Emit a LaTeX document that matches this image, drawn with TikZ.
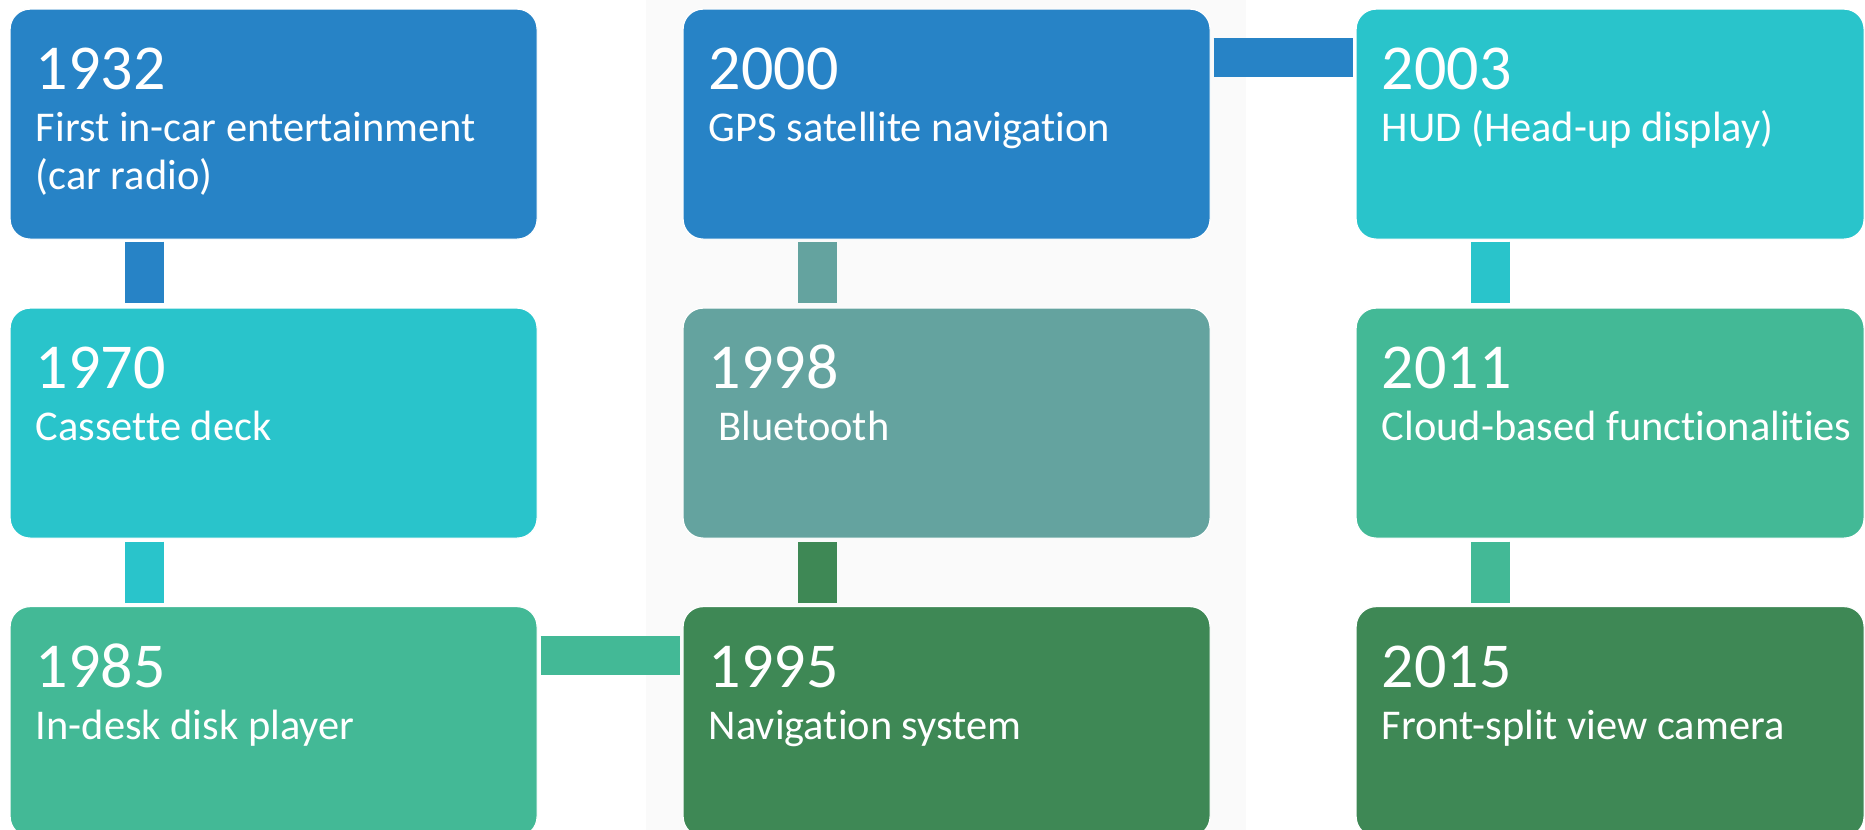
\documentclass[tikz,border=0pt]{standalone}
\usepackage{fontspec}
\setmainfont{Carlito}[Ligatures=NoCommon]
\definecolor{cBlue}{HTML}{2783C6}
\definecolor{cCyan}{HTML}{29C4CB}
\definecolor{cTeal}{HTML}{43B996}
\definecolor{cGrayTeal}{HTML}{64A39F}
\definecolor{cDark}{HTML}{3E8855}
\definecolor{cBg}{HTML}{FAFAFA}
\tikzset{
  evbox/.style={rectangle, rounded corners=10pt, draw=white, line width=0.6pt,
    minimum width=263.5pt, minimum height=115pt, anchor=north west, inner sep=0pt},
  evboxr/.style={evbox, minimum width=254pt},
  yeartext/.style={anchor=base west, inner sep=0pt, text=white,
    font=\fontsize{32}{38}\selectfont},
  desctext/.style={anchor=base west, inner sep=0pt, text=white, align=left,
    font=\fontsize{21.2}{24}\selectfont},
  conn/.style={line width=19.5pt, line cap=butt},
}
\begin{document}
\begin{tikzpicture}[x=0.5pt, y=-0.5pt]
\useasboundingbox (0,0) rectangle (1865,830);
\clip (0,0) rectangle (1865,830);
\fill[white] (0,0) rectangle (1865,830);
\fill[cBg] (646,0) rectangle (1246,830);

% boxes
\node[evbox, fill=cBlue] (b1932) at (9.5,8.5) {};
\node[evbox, fill=cCyan] (b1970) at (9.5,307.5) {};
\node[evbox, fill=cTeal] (b1985) at (9.5,606) {};
\node[evbox, fill=cBlue] (b2000) at (682.5,8.5) {};
\node[evbox, fill=cGrayTeal] (b1998) at (682.5,307.5) {};
\node[evbox, fill=cDark] (b1995) at (682.5,606) {};
\node[evboxr, fill=cCyan] (b2003) at (1355.5,8.5) {};
\node[evboxr, fill=cTeal] (b2011) at (1355.5,307.5) {};
\node[evboxr, fill=cDark] (b2015) at (1355.5,606) {};

% texts
\foreach \b/\yr in {b1932/1932, b1970/1970, b1985/1985, b2000/2000, b1998/1998, b1995/1995, b2003/2003, b2011/2011, b2015/2015}{
  \node[yeartext] (\b-year) at ([xshift=13pt, yshift=-40.5pt]\b.north west) {\yr};
}
\node[desctext] (d1932) at ([xshift=13pt, yshift=-90.5pt]b1932.north west) {First in-car entertainment\\(car radio)};
\node[desctext] (d1970) at ([xshift=13pt, yshift=-66.5pt]b1970.north west) {Cassette deck};
\node[desctext] (d1985) at ([xshift=13pt, yshift=-66.5pt]b1985.north west) {In-desk disk player};
\node[desctext] (d2000) at ([xshift=13pt, yshift=-66.5pt]b2000.north west) {GPS satellite navigation};
\node[desctext] (d1998) at ([xshift=13pt, yshift=-66.5pt]b1998.north west) {\ Bluetooth};
\node[desctext] (d1995) at ([xshift=13pt, yshift=-66.5pt]b1995.north west) {Navigation system};
\node[desctext] (d2003) at ([xshift=13pt, yshift=-66.5pt]b2003.north west) {HUD (Head-up display)};
\node[desctext] (d2011) at ([xshift=13pt, yshift=-66.5pt]b2011.north west) {Cloud-based functionalities};
\node[desctext] (d2015) at ([xshift=13pt, yshift=-66.5pt]b2015.north west) {Front-split view camera};

% connectors
\draw[conn, cBlue, shorten <=1pt, shorten >=2.5pt] ([xshift=67.25pt]b1932.south west) -- ([xshift=67.25pt]b1970.north west);
\draw[conn, cCyan, shorten <=1.5pt, shorten >=1.5pt] ([xshift=67.25pt]b1970.south west) -- ([xshift=67.25pt]b1985.north west);
\draw[conn, cTeal, shorten <=1.5pt, shorten >=1.5pt] ([yshift=-24.5pt]b1985.north east) -- ([yshift=-24.5pt]b1995.north west);
\draw[conn, cDark, shorten <=1.5pt, shorten >=1.5pt] ([xshift=67.25pt]b1995.north west) -- ([xshift=67.25pt]b1998.south west);
\draw[conn, cGrayTeal, shorten <=2.5pt, shorten >=1pt] ([xshift=67.25pt]b1998.north west) -- ([xshift=67.25pt]b2000.south west);
\draw[conn, cBlue, shorten <=1.5pt, shorten >=1.5pt] ([yshift=-24.5pt]b2000.north east) -- ([yshift=-24.5pt]b2003.north west);
\draw[conn, cCyan, shorten <=1pt, shorten >=2.5pt] ([xshift=67.25pt]b2003.south west) -- ([xshift=67.25pt]b2011.north west);
\draw[conn, cTeal, shorten <=1.5pt, shorten >=1.5pt] ([xshift=67.25pt]b2011.south west) -- ([xshift=67.25pt]b2015.north west);
\end{tikzpicture}
\end{document}
